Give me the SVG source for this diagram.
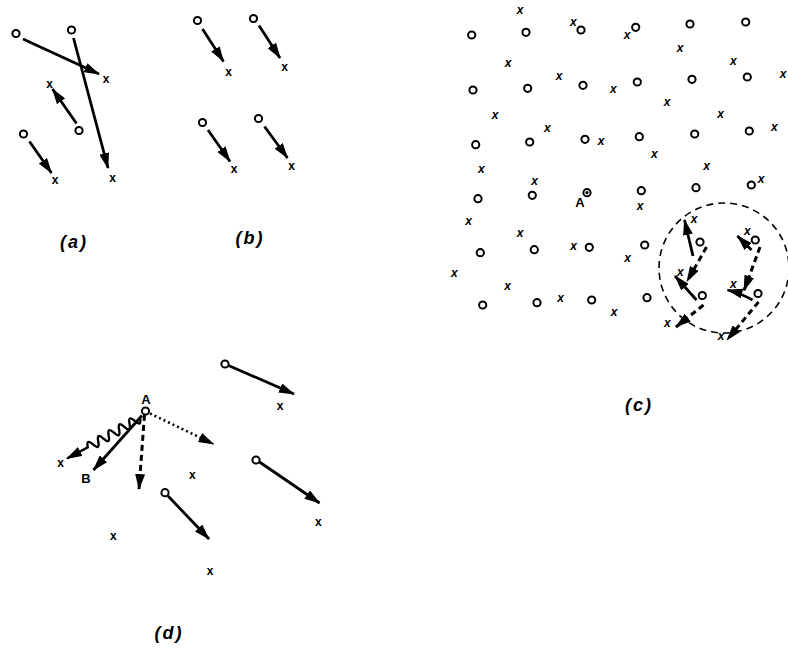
<svg xmlns="http://www.w3.org/2000/svg" width="788" height="651" viewBox="0 0 788 651">
<style>
.o{fill:#fff;stroke:#000;stroke-width:2}
.x{font-family:"Liberation Sans",Arial,sans-serif;font-size:12px;font-weight:bold;text-anchor:middle;fill:#000}
.xi{font-family:"Liberation Sans",Arial,sans-serif;font-size:12px;font-weight:bold;font-style:italic;text-anchor:middle;fill:#000}
.s{stroke:#000;stroke-width:2.8;fill:none;marker-end:url(#ah)}
.d{stroke:#000;stroke-width:3;fill:none;stroke-dasharray:6,4;marker-end:url(#ah)}
.dt{stroke:#000;stroke-width:2.6;fill:none;stroke-dasharray:2,3;marker-end:url(#ah)}
.w{stroke:#000;stroke-width:2.4;fill:none;marker-end:url(#ah)}
.lab{font-family:"Liberation Sans",Arial,sans-serif;font-size:18px;font-weight:bold;font-style:italic;letter-spacing:2px;text-anchor:middle;fill:#000}
.pl{font-family:"Liberation Sans",Arial,sans-serif;font-size:13px;font-weight:bold;text-anchor:middle;fill:#000}
</style>
<defs>
<marker id="ah" markerUnits="userSpaceOnUse" markerWidth="16" markerHeight="10" refX="15" refY="5" orient="auto">
<path d="M0,0 L16,5 L0,10 z" fill="#000"/>
</marker>
</defs>
<rect width="788" height="651" fill="#fff"/>

<g id="connectors">
<!-- (a) -->
<line class="s" x1="23" y1="39" x2="99" y2="74"/>
<line class="s" x1="73.5" y1="38" x2="108" y2="168"/>
<line class="s" x1="76.5" y1="123.5" x2="52.5" y2="89"/>
<line class="s" x1="29.5" y1="141.5" x2="51.5" y2="173"/>
<!-- (b) -->
<line class="s" x1="202.5" y1="29" x2="223.5" y2="61.5"/>
<line class="s" x1="259" y1="25.5" x2="280" y2="58"/>
<line class="s" x1="208" y1="130" x2="230" y2="161.5"/>
<line class="s" x1="264.5" y1="126.5" x2="287.5" y2="158"/>
<!-- (c) circle region -->
<line class="s" x1="693" y1="256" x2="684.5" y2="220"/>
<line class="d" x1="706.5" y1="247" x2="687" y2="281.5"/>
<line class="s" x1="696.5" y1="300" x2="675" y2="276"/>
<line class="d" x1="703.5" y1="305" x2="676" y2="327"/>
<line class="s" x1="751.5" y1="250" x2="737.5" y2="236"/>
<line class="d" x1="760" y1="247" x2="744" y2="290.5"/>
<path class="s" d="M752.5,300 Q740,293 727.5,290"/>
<line class="d" x1="758.5" y1="302" x2="727" y2="340"/>
<!-- (d) -->
<path class="w" d="M140,418 q1.8,9.3 -5.22,2.94 q-7.02,-6.36 -5.22,2.94 q1.8,9.3 -5.22,2.94 q-7.02,-6.36 -5.22,2.94 q1.8,9.3 -5.22,2.94 q-7.02,-6.36 -5.22,2.94 q1.8,9.3 -5.22,2.94 q-7.02,-6.36 -5.22,2.94 q1.8,9.3 -5.22,2.94 q-7.02,-6.36 -5.22,2.94 L67,458.5"/>
<line class="s" x1="142" y1="415.5" x2="93.5" y2="470"/>
<line class="d" x1="144.5" y1="415" x2="139" y2="489"/>
<line class="dt" x1="150" y1="413.5" x2="213.5" y2="444"/>
<line class="s" x1="168" y1="496" x2="209" y2="539"/>
<line class="s" x1="228.5" y1="365.5" x2="294" y2="394"/>
<line class="s" x1="259.5" y1="462" x2="319.5" y2="503"/>
</g>

<g id="panel-a">
<circle class="o" cx="16" cy="33.5" r="3.6"/>
<circle class="o" cx="71.5" cy="30" r="3.6"/>
<circle class="o" cx="79" cy="130.5" r="3.6"/>
<circle class="o" cx="23.5" cy="134" r="3.6"/>
<text class="x" x="106" y="82.5">x</text>
<text class="x" x="112.5" y="181.5">x</text>
<text class="x" x="49.5" y="87.5">x</text>
<text class="x" x="55" y="184">x</text>
<text class="lab" x="74" y="248">(a)</text>
</g>

<g id="panel-b">
<circle class="o" cx="197.5" cy="20.5" r="3.6"/>
<circle class="o" cx="253.5" cy="18.5" r="3.6"/>
<circle class="o" cx="202.5" cy="122.5" r="3.6"/>
<circle class="o" cx="258.5" cy="118.5" r="3.6"/>
<text class="x" x="228.5" y="75.5">x</text>
<text class="x" x="284.5" y="70.5">x</text>
<text class="x" x="234" y="173">x</text>
<text class="x" x="291.5" y="169.5">x</text>
<text class="lab" x="250" y="244">(b)</text>
</g>

<g id="panel-c">
<circle class="o" cx="471.7" cy="35" r="3.6"/>
<circle class="o" cx="526" cy="32.3" r="3.6"/>
<circle class="o" cx="581" cy="30" r="3.6"/>
<circle class="o" cx="635.7" cy="27.3" r="3.6"/>
<circle class="o" cx="690" cy="24" r="3.6"/>
<circle class="o" cx="745.7" cy="22" r="3.6"/>
<circle class="o" cx="473" cy="90" r="3.6"/>
<circle class="o" cx="527.7" cy="88.3" r="3.6"/>
<circle class="o" cx="583" cy="85.3" r="3.6"/>
<circle class="o" cx="637.3" cy="82" r="3.6"/>
<circle class="o" cx="692" cy="79.3" r="3.6"/>
<circle class="o" cx="747.3" cy="77" r="3.6"/>
<circle class="o" cx="475.7" cy="144.7" r="3.6"/>
<circle class="o" cx="529.7" cy="142" r="3.6"/>
<circle class="o" cx="585" cy="139.3" r="3.6"/>
<circle class="o" cx="639.3" cy="136.7" r="3.6"/>
<circle class="o" cx="694.7" cy="134" r="3.6"/>
<circle class="o" cx="749.3" cy="131" r="3.6"/>
<circle class="o" cx="478" cy="198.7" r="3.6"/>
<circle class="o" cx="532.3" cy="195.3" r="3.6"/>
<circle class="o" cx="587" cy="192.7" r="3.6"/>
<circle cx="587" cy="192.7" r="1.6" fill="#000"/>
<circle class="o" cx="641.3" cy="190.7" r="3.6"/>
<circle class="o" cx="696" cy="187.7" r="3.6"/>
<circle class="o" cx="751.3" cy="185" r="3.6"/>
<circle class="o" cx="480.3" cy="252.7" r="3.6"/>
<circle class="o" cx="534.3" cy="249.7" r="3.6"/>
<circle class="o" cx="589.3" cy="247.3" r="3.6"/>
<circle class="o" cx="644.7" cy="245" r="3.6"/>
<circle class="o" cx="700" cy="242" r="3.6"/>
<circle class="o" cx="755.3" cy="240" r="3.6"/>
<circle class="o" cx="482.7" cy="305" r="3.6"/>
<circle class="o" cx="537" cy="302.7" r="3.6"/>
<circle class="o" cx="591.7" cy="300" r="3.6"/>
<circle class="o" cx="647" cy="297.7" r="3.6"/>
<circle class="o" cx="702.3" cy="295.5" r="3.6"/>
<circle class="o" cx="758" cy="293.5" r="3.6"/>
<text class="pl" x="580" y="206.5">A</text>
<text class="xi" x="520" y="14">x</text>
<text class="xi" x="573.3" y="26">x</text>
<text class="xi" x="627" y="38.5">x</text>
<text class="xi" x="680" y="52">x</text>
<text class="xi" x="733.3" y="64.5">x</text>
<text class="xi" x="783" y="78">x</text>
<text class="xi" x="508" y="66.5">x</text>
<text class="xi" x="559" y="80">x</text>
<text class="xi" x="613.3" y="93">x</text>
<text class="xi" x="667" y="105.5">x</text>
<text class="xi" x="720.7" y="118">x</text>
<text class="xi" x="774.3" y="130.5">x</text>
<text class="xi" x="495" y="119">x</text>
<text class="xi" x="547.3" y="132">x</text>
<text class="xi" x="601" y="145">x</text>
<text class="xi" x="654.3" y="158">x</text>
<text class="xi" x="706.7" y="170">x</text>
<text class="xi" x="761" y="183">x</text>
<text class="xi" x="481.3" y="173">x</text>
<text class="xi" x="534.7" y="185">x</text>
<text class="xi" x="640" y="210">x</text>
<text class="xi" x="468.7" y="224.5">x</text>
<text class="xi" x="520" y="237">x</text>
<text class="xi" x="573.7" y="250">x</text>
<text class="xi" x="627.7" y="262">x</text>
<text class="xi" x="694" y="222.5">x</text>
<text class="xi" x="747.3" y="234.5">x</text>
<text class="xi" x="454.3" y="277">x</text>
<text class="xi" x="507.7" y="290">x</text>
<text class="xi" x="560.7" y="302">x</text>
<text class="xi" x="614" y="315.5">x</text>
<text class="xi" x="680.3" y="275.5">x</text>
<text class="xi" x="733.3" y="288">x</text>
<text class="xi" x="667.3" y="327">x</text>
<text class="xi" x="721" y="340">x</text>
<circle cx="724" cy="268" r="65" fill="none" stroke="#000" stroke-width="1.6" stroke-dasharray="7,5"/>
<text class="lab" x="639" y="411">(c)</text>
</g>

<g id="panel-d">
<circle class="o" cx="145.5" cy="411" r="3.6"/>
<circle class="o" cx="165" cy="492.7" r="3.6"/>
<circle class="o" cx="225" cy="364" r="3.6"/>
<circle class="o" cx="256" cy="460" r="3.6"/>
<text class="pl" x="146" y="404">A</text>
<text class="pl" x="86" y="483">B</text>
<text class="x" x="60.7" y="467">x</text>
<text class="x" x="192.3" y="479">x</text>
<text class="x" x="113.3" y="539.5">x</text>
<text class="x" x="210" y="575">x</text>
<text class="x" x="280" y="410">x</text>
<text class="x" x="318.3" y="526">x</text>
<text class="lab" x="169" y="639">(d)</text>
</g>
</svg>
